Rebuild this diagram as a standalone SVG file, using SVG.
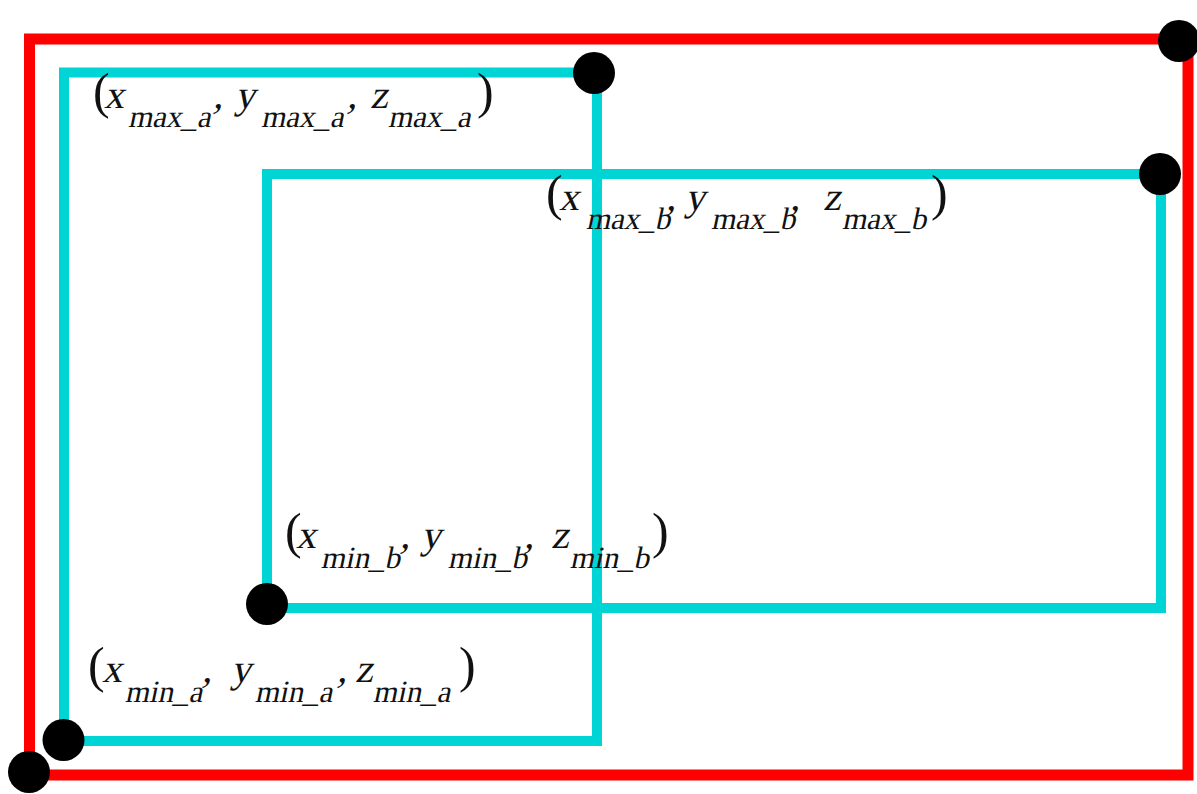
<svg xmlns="http://www.w3.org/2000/svg" width="1197" height="794" viewBox="0 0 1197 794">
<style>
.red{fill:none;stroke:#ff0000;stroke-width:11}
.cyan{fill:none;stroke:#00d4d4;stroke-width:10}
.dot{fill:#000}
.lbl{font-family:"Liberation Serif","Times New Roman",serif;fill:#111}
.p{font-size:50px}
.m{font-size:40px}
.s{font-size:31px}
</style>
<rect width="1197" height="794" fill="#fff"/>
<g id="box-outer"><rect class="red" x="29.5" y="39" width="1158.5" height="736"/></g>
<g id="box-a"><rect class="cyan" x="64" y="72.5" width="533" height="668.5"/></g>
<g id="box-b"><rect class="cyan" x="267" y="174" width="894" height="434"/></g>
<g id="label-max-a">
<text class="lbl p"><tspan x="93" y="108">(</tspan><tspan x="477" y="108">)</tspan></text>
<g transform="translate(0 108) skewX(-12) translate(0 -108)"><text class="lbl"><tspan class="m" x="104" y="108">x</tspan><tspan class="s" x="132" y="127">max_a</tspan><tspan class="m" x="213" y="108">,</tspan><tspan class="m" x="235" y="108">y</tspan><tspan class="s" x="265" y="127">max_a</tspan><tspan class="m" x="347" y="108">,</tspan><tspan class="m" x="370" y="108">z</tspan><tspan class="s" x="392" y="127">max_a</tspan></text></g>
</g>
<g id="label-max-b">
<text class="lbl p"><tspan x="546" y="210">(</tspan><tspan x="931" y="210">)</tspan></text>
<g transform="translate(0 210) skewX(-12) translate(0 -210)"><text class="lbl"><tspan class="m" x="559" y="210">x</tspan><tspan class="s" x="590" y="229">max_b</tspan><tspan class="m" x="666" y="210">,</tspan><tspan class="m" x="685" y="210">y</tspan><tspan class="s" x="715" y="229">max_b</tspan><tspan class="m" x="790" y="210">,</tspan><tspan class="m" x="823" y="210">z</tspan><tspan class="s" x="846" y="229">max_b</tspan></text></g>
</g>
<g id="label-min-b">
<text class="lbl p"><tspan x="285" y="548">(</tspan><tspan x="652" y="548">)</tspan></text>
<g transform="translate(0 548) skewX(-12) translate(0 -548)"><text class="lbl"><tspan class="m" x="296" y="548">x</tspan><tspan class="s" x="325" y="568">min_b</tspan><tspan class="m" x="400" y="548">,</tspan><tspan class="m" x="421" y="548">y</tspan><tspan class="s" x="452" y="568">min_b</tspan><tspan class="m" x="524" y="548">,</tspan><tspan class="m" x="551" y="548">z</tspan><tspan class="s" x="574" y="568">min_b</tspan></text></g>
</g>
<g id="label-min-a">
<text class="lbl p"><tspan x="88" y="682">(</tspan><tspan x="459" y="682">)</tspan></text>
<g transform="translate(0 682) skewX(-12) translate(0 -682)"><text class="lbl"><tspan class="m" x="102" y="682">x</tspan><tspan class="s" x="129" y="702">min_a</tspan><tspan class="m" x="202" y="682">,</tspan><tspan class="m" x="231" y="682">y</tspan><tspan class="s" x="259" y="702">min_a</tspan><tspan class="m" x="337" y="682">,</tspan><tspan class="m" x="355" y="682">z</tspan><tspan class="s" x="377" y="702">min_a</tspan></text></g>
</g>
<g id="points">
<circle class="dot" cx="1179" cy="41" r="21"/>
<circle class="dot" cx="594" cy="73" r="21"/>
<circle class="dot" cx="1160" cy="174" r="21"/>
<circle class="dot" cx="267" cy="604" r="21"/>
<circle class="dot" cx="63.5" cy="740" r="21"/>
<circle class="dot" cx="29" cy="772" r="21"/>
</g>
</svg>
